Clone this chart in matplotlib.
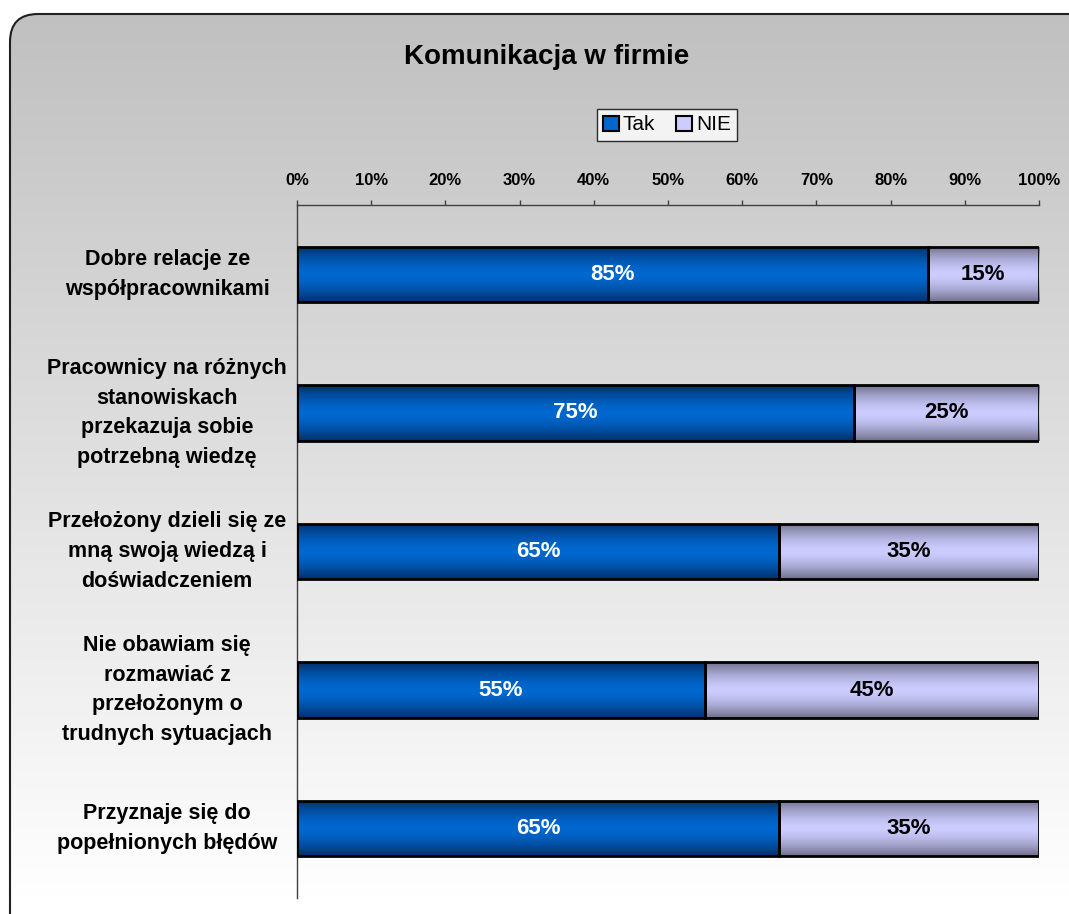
import numpy as np
import matplotlib
matplotlib.use("Agg")
import matplotlib.pyplot as plt
from matplotlib.patches import FancyBboxPatch, Patch
from matplotlib.colors import to_rgb

plt.rcParams['font.family'] = ['Liberation Sans', 'DejaVu Sans']

title = "Komunikacja w firmie"
categories = [
    "Dobre relacje ze\nwspółpracownikami",
    "Pracownicy na różnych\nstanowiskach\nprzekazuja sobie\npotrzebną wiedzę",
    "Przełożony dzieli się ze\nmną swoją wiedzą i\ndoświadczeniem",
    "Nie obawiam się\nrozmawiać z\nprzełożonym o\ntrudnych sytuacjach",
    "Przyznaje się do\npopełnionych błędów",
]
series_names = ["Tak", "NIE"]
tak = [85, 75, 65, 55, 65]
nie = [15, 25, 35, 45, 35]
xticks = [0, 10, 20, 30, 40, 50, 60, 70, 80, 90, 100]

W, H = 1069, 914
fig = plt.figure(figsize=(W / 100, H / 100), dpi=100)
fig.patch.set_facecolor("white")

# background panel with vertical gradient and rounded corners
bg = fig.add_axes([0, 0, 1, 1], zorder=0)
bg.set_xlim(0, W)
bg.set_ylim(H, 0)
bg.axis("off")
top_c = np.array(to_rgb("#c0c0c0"))
bot_c = np.array(to_rgb("#ffffff"))
t = np.linspace(0, 1, 256)[:, None]
grad = top_c[None, :] * (1 - t) + bot_c[None, :] * t
grad = grad[:, None, :]
panel = FancyBboxPatch((10, 14), W + 60, H + 60,
                       boxstyle="round,pad=0,rounding_size=28",
                       facecolor="none", edgecolor="#202020", lw=1.5,
                       transform=bg.transData)
bg.add_patch(panel)
im = bg.imshow(grad, extent=(10, W + 70, 900, 14), aspect="auto", zorder=0)
im.set_clip_path(panel)

fig.text(547 / W, 1 - 57 / H, title, ha="center", va="center",
         fontsize=20, fontweight="bold")

ax = fig.add_axes([297 / W, 1 - 898 / H, (1039 - 297) / W, (898 - 205) / H], zorder=1)
ax.patch.set_alpha(0)
y = np.arange(len(categories))
bh = 0.4


def profile(edge, mid, n=64):
    e = np.array(to_rgb(edge))
    m = np.array(to_rgb(mid))
    s = np.linspace(-1, 1, n)[:, None]
    w = np.abs(s) ** 1.6
    return (m[None, :] * (1 - w) + e[None, :] * w)[:, None, :]


tak_grad = profile("#00306a", "#0068d0")
nie_grad = profile("#70708c", "#ccccff")

b1 = ax.barh(y, tak, height=bh, color="#0066cc", edgecolor="black", lw=2, zorder=3)
b2 = ax.barh(y, nie, left=tak, height=bh, color="#ccccff", edgecolor="black", lw=2, zorder=3)
for bars, g in ((b1, tak_grad), (b2, nie_grad)):
    for p in bars:
        x0, y0 = p.get_x(), p.get_y()
        w_, h_ = p.get_width(), p.get_height()
        img = ax.imshow(g, extent=(x0, x0 + w_, y0 + h_, y0), aspect="auto", zorder=3.5)
        img.set_clip_path(p)
        p.set_facecolor("none")
        p.set_zorder(4)

for i in range(len(categories)):
    ax.text(tak[i] / 2, y[i], f"{tak[i]}%", ha="center", va="center",
            color="white", fontsize=16, fontweight="bold", zorder=5)
    ax.text(tak[i] + nie[i] / 2, y[i], f"{nie[i]}%", ha="center", va="center",
            color="black", fontsize=16, fontweight="bold", zorder=5)

ax.set_xlim(0, 100)
ax.set_ylim(len(categories) - 0.5, -0.5)
ax.xaxis.tick_top()
ax.set_xticks(xticks)
ax.set_xticklabels([f"{v}%" for v in xticks], fontsize=12, fontweight="bold")
ax.tick_params(axis="x", direction="out", length=3.5, width=1, color="#404040", pad=9)
ax.set_yticks([])
for s in ("right", "bottom"):
    ax.spines[s].set_visible(False)
for s in ("left", "top"):
    ax.spines[s].set_color("#404040")
    ax.spines[s].set_linewidth(1)
ax.set_aspect("auto")

for i, c in enumerate(categories):
    ax.text(-17.5, y[i], c, ha="center", va="center", fontsize=15.5,
            fontweight="bold", linespacing=1.55, transform=ax.transData, clip_on=False)

handles = [Patch(facecolor="#0066cc", edgecolor="black", lw=1.5),
           Patch(facecolor="#ccccff", edgecolor="black", lw=1.5)]
leg = fig.legend(handles, series_names, loc="center", bbox_to_anchor=(667 / W, 1 - 125 / H),
                 ncol=2, fontsize=15, frameon=True, fancybox=False, edgecolor="black",
                 handlelength=0.75, handleheight=0.75, handletextpad=0.2, columnspacing=1.0,
                 borderpad=0.3)
leg.get_frame().set_linewidth(1)

fig.savefig("out.png", dpi=100)
